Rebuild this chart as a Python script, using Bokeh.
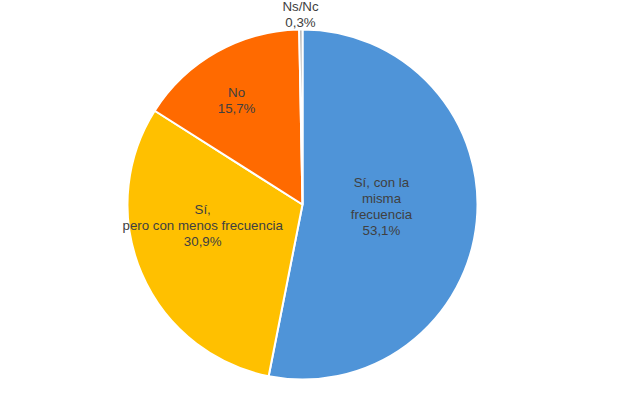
import math
from bokeh.plotting import figure
from bokeh.models import Range1d, ColumnDataSource
from bokeh.core.properties import value
from bokeh.embed import file_html
from bokeh.resources import INLINE

# ---- data ----
categories = ["Sí, con la\nmisma\nfrecuencia", "Sí,\npero con menos frecuencia", "No", "Ns/Nc"]
values = [53.1, 30.9, 15.7, 0.3]
pct_labels = ["53,1%", "30,9%", "15,7%", "0,3%"]
colors = ["#4F94D8", "#FFC000", "#FF6A00", "#A5A5A5"]

# ---- layout (pixel-like data units) ----
W, H = 606, 380
cx, cy, R = 302, 176, 175          # center in data units
label_polar = [(79, -1.5), (102, 191.9), (123, 122.4), (190, 90.6)]  # (radius, angle deg)

total = sum(values)
starts, ends = [], []
a = 90.0
for v in values:
    starts.append(math.radians(a))
    a -= v / total * 360.0
    ends.append(math.radians(a))

src = ColumnDataSource(dict(start=starts, end=ends, color=colors))

p = figure(width=W, height=H, output_backend="svg", toolbar_location=None,
           x_range=Range1d(0, W), y_range=Range1d(0, H), min_border=0)
p.axis.visible = False
p.grid.visible = False
p.outline_line_color = None
p.background_fill_color = "white"
p.border_fill_color = "white"

p.wedge(x=cx, y=cy, radius=R, start_angle="start", end_angle="end", direction="clock",
        fill_color="color", line_color="white", line_width=2, source=src)

lx, ly, txt = [], [], []
for (r, ang), c, pl in zip(label_polar, categories, pct_labels):
    lx.append(cx + r * math.cos(math.radians(ang)))
    ly.append(cy + r * math.sin(math.radians(ang)))
    txt.append(c + "\n" + pl)

p.text(x=lx, y=ly, text=txt, text_align="center", text_baseline="middle",
       text_font=value("Liberation Sans"), text_font_size="13.3px",
       text_color="#404040", text_line_height=1.05)

open("out.html", "w").write(file_html(p, INLINE))
